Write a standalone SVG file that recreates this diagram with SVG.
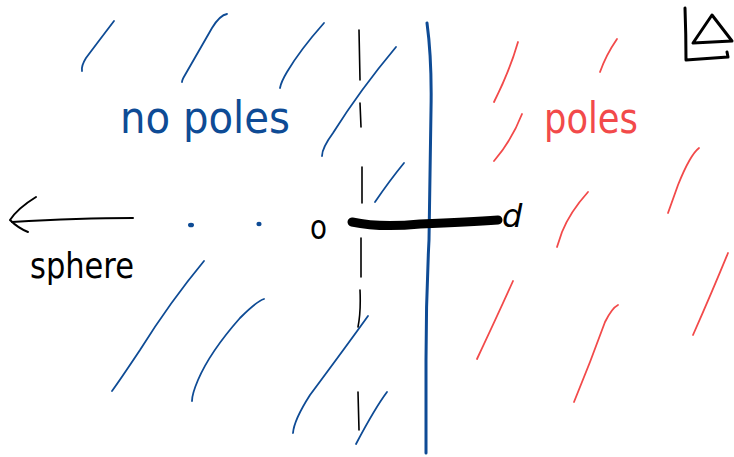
<svg xmlns="http://www.w3.org/2000/svg" width="734" height="457" viewBox="0 0 734 457">
<style>
.bl{fill:none;stroke:#0e4b95;stroke-width:1.8;stroke-linecap:round}
.rd{fill:none;stroke:#f24a4a;stroke-width:1.8;stroke-linecap:round}
.bk{fill:none;stroke:#000;stroke-width:2;stroke-linecap:round;stroke-linejoin:round}
.hand{font-family:"DejaVu Sans","Liberation Sans",sans-serif}
.dot{fill:#0e4b95}
</style>
<rect width="734" height="457" fill="#fff"/>
<g id="hatch-blue">
<path class="bl" d="M114,21 Q98,42 86,58 Q81,66 82,71"/>
<path class="bl" d="M227,14 Q220,15 212,28 L185,75 Q182,80 182,82"/>
<path class="bl" d="M324,23 Q300,50 287,72 Q281,82 280,88"/>
<path class="bl" d="M396,47 Q360,90 333,133 Q322,148 322,156"/>
<path class="bl" d="M404,163 Q390,180 375,202"/>
<path class="bl" d="M204,261 Q170,302 140,350 Q120,380 112,391"/>
<path class="bl" d="M264,299 Q257,301 240,318 Q210,352 198,380 Q192,394 192,401"/>
<path class="bl" d="M368,316 Q345,348 310,395 Q294,420 293,433"/>
<path class="bl" d="M387,392 Q375,408 356,444"/>
</g>
<g id="hatch-red">
<path class="rd" d="M518,42 Q510,70 494,102"/>
<path class="rd" d="M617,39 Q606,55 600,72"/>
<path class="rd" d="M522,114 Q512,140 494,161"/>
<path class="rd" d="M699,148 Q690,155 678,185 L668,213"/>
<path class="rd" d="M588,192 Q570,212 562,232 L557,247"/>
<path class="rd" d="M513,281 Q500,310 477,359"/>
<path class="rd" d="M618,305 Q612,308 605,322 L590,362 L574,402"/>
<path class="rd" d="M728,253 Q712,292 693,335"/>
</g>
<g id="dots">
<ellipse class="dot" cx="191" cy="225" rx="3" ry="2.3"/>
<ellipse class="dot" cx="259" cy="224" rx="2.6" ry="2.2"/>
</g>
<g id="dashed-line">
<path class="bk" style="stroke-width:1.6" d="M359,30 L360,80 M360,103 L361,127 M362,167 L362,203 M361,238 L361,277 M360,290 Q361,312 358,327 M358,392 L359,430"/>
</g>
<g id="boundary">
<path fill="none" stroke="#0e4b95" stroke-width="3" stroke-linecap="round" d="M427,23 Q432,60 431,110 Q430,180 429,240 Q426,300 426,360 L426,453"/>
</g>
<g id="segment">
<path fill="none" stroke="#000" stroke-width="9" stroke-linecap="round" d="M352,222 Q380,228 420,224 Q470,222 498,220"/>
<text class="hand" x="310" y="239" font-size="34" textLength="17" lengthAdjust="spacingAndGlyphs">o</text>
<text class="hand" x="502" y="227" font-size="32" font-style="italic">d</text>
</g>
<g id="sphere-arrow">
<path class="bk" d="M133,218 Q80,218 12,222"/>
<path class="bk" d="M36,197 Q18,208 10,220 Q18,228 28,232"/>
<text class="hand" x="30" y="278" font-size="36" textLength="104" lengthAdjust="spacingAndGlyphs">sphere</text>
</g>
<g id="label-no-poles">
<text class="hand" x="120" y="133" font-size="44" fill="#0e4b95" textLength="170" lengthAdjust="spacingAndGlyphs">no poles</text>
</g>
<g id="label-poles">
<text class="hand" x="544" y="133" font-size="42" fill="#f24a4a" textLength="94" lengthAdjust="spacingAndGlyphs">poles</text>
</g>
<g id="icon">
<path class="bk" style="stroke-width:3" d="M685,8 Q686,35 686,60 L728,57 L727,52"/>
<path class="bk" style="stroke-width:3" d="M712,15 L693,43 L732,41 Z"/>
</g>
</svg>
